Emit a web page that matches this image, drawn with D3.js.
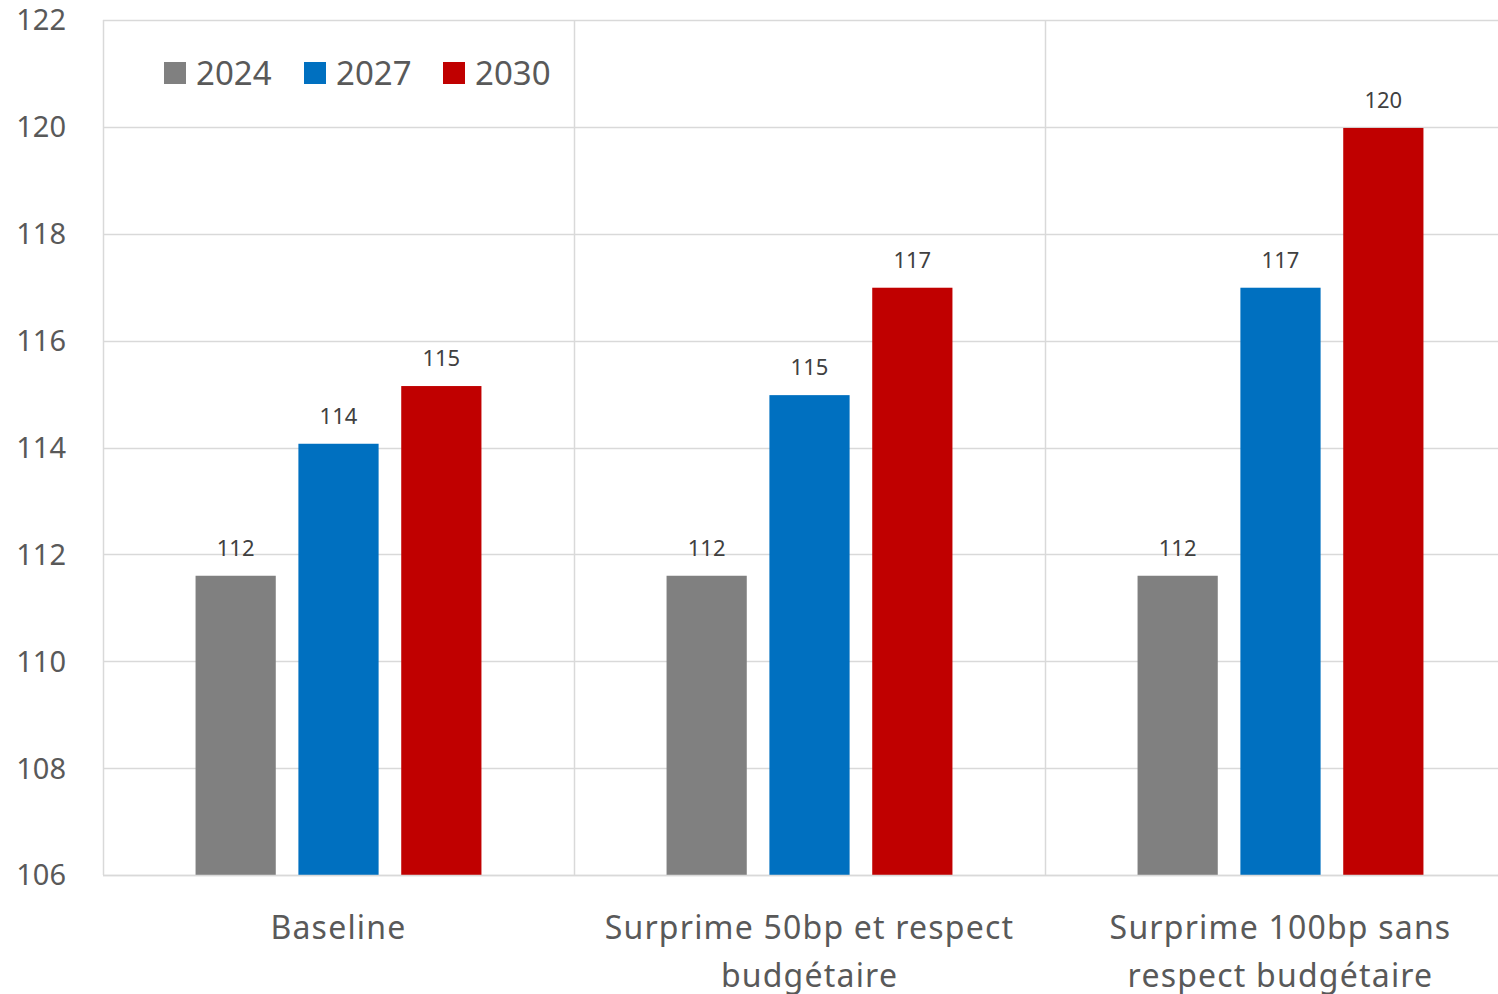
<!DOCTYPE html>
<html>
<head>
<meta charset="utf-8">
<script src="https://cdn.jsdelivr.net/npm/d3@7"></script>
<style>
	body{margin:0;background:#fff;}
	svg{display:block;font-family:'Noto Sans',sans-serif;}
</style>
</head>
<body>
<div id="plot"></div>
<script>
//Chart data
var categories = [['Baseline'],['Surprime 50bp et respect','budgétaire'],['Surprime 100bp sans','respect budgétaire']];
var series = ['2024','2027','2030'];
var colors = ['#808080','#0070c0','#c00000'];
var values2024 = [111.6,111.6,111.6];
var values2027 = [114.07,114.98,116.99];
var values2030 = [115.15,116.99,119.98];
var yTicks = [106,108,110,112,114,116,118,120,122];

var W = 1498, H = 994,
	m = {t:20,l:103,b:119},
	plotRight = 1516; //plot area runs past the window edge

var svg = d3.select('#plot').append('svg')
	.attr('width',W).attr('height',H);

var y = d3.scaleLinear().domain([106,122]).range([H-m.b,m.t]);
var x0 = d3.scaleBand().domain(d3.range(categories.length)).range([m.l,plotRight]);
var x1 = d3.scaleBand().domain(series).range([0,x0.bandwidth()])
	.paddingInner(0.22).paddingOuter(0.9);

var rows = series.map(function(s,i){
	var vals = [values2024,values2027,values2030][i];
	return vals.map(function(v,j){return {cat:j,series:s,value:v,color:colors[i]}});
});

//gridlines
svg.append('g').selectAll('line').data(yTicks).enter().append('line')
	.attr('x1',m.l).attr('x2',plotRight)
	.attr('y1',function(d){return Math.round(y(d))+0.5})
	.attr('y2',function(d){return Math.round(y(d))+0.5})
	.style('stroke','#d9d9d9').style('stroke-width','1.5px');

//vertical category separators
svg.append('g').selectAll('line').data(d3.range(categories.length)).enter().append('line')
	.attr('x1',function(d){return Math.round(x0(d))+0.5})
	.attr('x2',function(d){return Math.round(x0(d))+0.5})
	.attr('y1',y(122)).attr('y2',y(106))
	.style('stroke','#d9d9d9').style('stroke-width','1.5px');

//y labels
svg.append('g').selectAll('text').data(yTicks).enter().append('text')
	.attr('x',66).attr('y',function(d){return y(d)})
	.attr('dy','0.36em')
	.attr('text-anchor','end')
	.style('font-size','29px').style('fill','#595959')
	.text(function(d){return d});

//bars
var bars = svg.append('g').selectAll('g').data(rows).enter().append('g');
bars.selectAll('rect').data(function(d){return d}).enter().append('rect')
	.attr('x',function(d){return x0(d.cat)+x1(d.series)})
	.attr('width',x1.bandwidth())
	.attr('y',function(d){return y(d.value)})
	.attr('height',function(d){return y(106)-y(d.value)})
	.style('fill',function(d){return d.color});

bars.selectAll('text').data(function(d){return d}).enter().append('text')
	.attr('x',function(d){return x0(d.cat)+x1(d.series)+x1.bandwidth()/2})
	.attr('y',function(d){return y(d.value)-20})
	.attr('text-anchor','middle')
	.style('font-size','22px').style('fill','#404040')
	.text(function(d){return Math.round(d.value)});

//x axis line
svg.append('line')
	.attr('x1',m.l).attr('x2',plotRight)
	.attr('y1',Math.round(y(106))+0.5).attr('y2',Math.round(y(106))+0.5)
	.style('stroke','#d9d9d9').style('stroke-width','1.5px');

//category labels
var catLabels = svg.append('g').selectAll('text').data(categories).enter().append('text')
	.attr('x',function(d,i){return x0(i)+x0.bandwidth()/2})
	.attr('y',939)
	.attr('text-anchor','middle')
	.style('font-size','32px').style('letter-spacing','1.2px').style('fill','#595959');
catLabels.selectAll('tspan').data(function(d){return d}).enter().append('tspan')
	.attr('x',function(){return d3.select(this.parentNode).attr('x')})
	.attr('dy',function(d,i){return i?48:0})
	.text(function(d){return d});

//legend
var legend = svg.append('g').selectAll('g').data(series).enter().append('g')
	.attr('transform',function(d,i){return 'translate('+[164,304,443][i]+',62)'});
legend.append('rect').attr('width',22).attr('height',22)
	.style('fill',function(d,i){return colors[i]});
legend.append('text').attr('x',32).attr('y',11).attr('dy','0.36em')
	.style('font-size','33px').style('fill','#595959')
	.text(function(d){return d});
</script>
</body>
</html>
